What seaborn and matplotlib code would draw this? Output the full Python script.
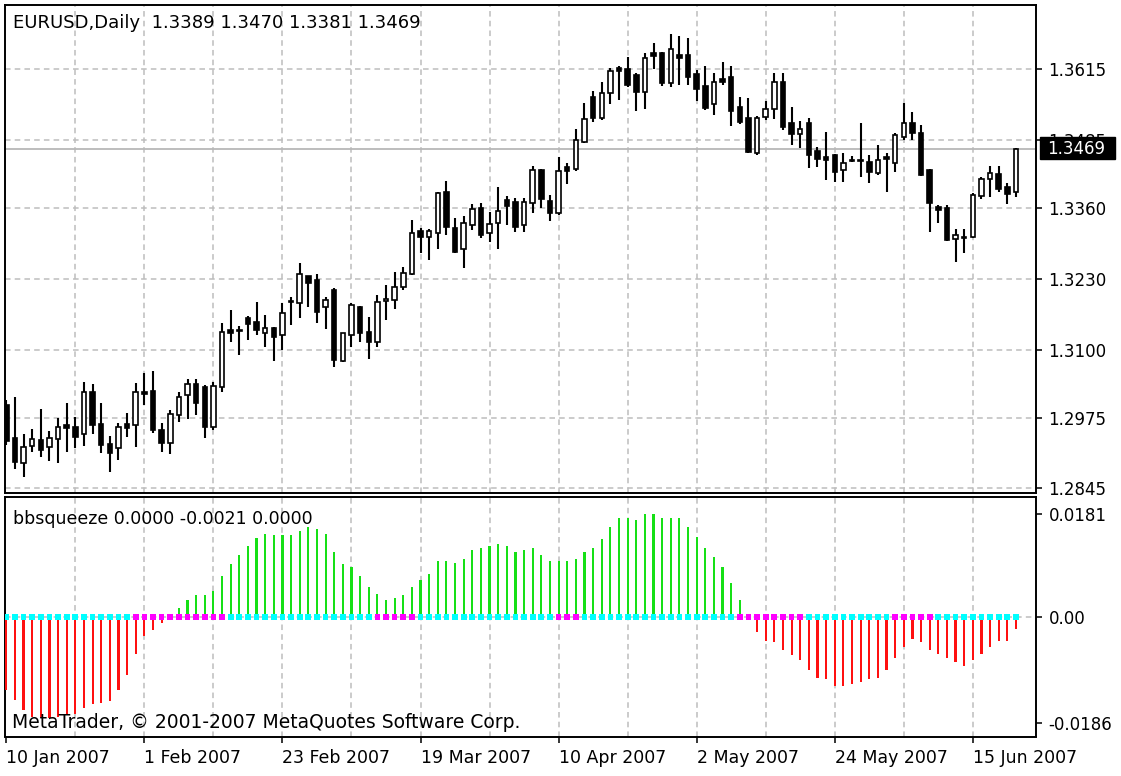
import numpy as np
import pandas as pd
import matplotlib
matplotlib.use("Agg")
import matplotlib.pyplot as plt
import seaborn as sns
from matplotlib.patches import Rectangle

sns.set_theme(style="white")
plt.rcParams['font.family'] = ['DejaVu Sans']
plt.rcParams['lines.scale_dashes'] = False

# ---------------- data ----------------
opens = [1.2998, 1.2938, 1.2892, 1.2923, 1.2934, 1.2921, 1.2936, 1.2961, 1.2958, 1.2945,
         1.3022, 1.2963, 1.2926, 1.2919, 1.2963, 1.2961, 1.3022, 1.3024, 1.2952, 1.2928,
         1.2980, 1.3017, 1.3037, 1.3031, 1.2958, 1.3031, 1.3136, 1.3136, 1.3158, 1.3151,
         1.3130, 1.3140, 1.3127, 1.3187, 1.3186, 1.3235, 1.3228, 1.3178, 1.3209, 1.3079,
         1.3127, 1.3178, 1.3132, 1.3114, 1.3189, 1.3191, 1.3215, 1.3239, 1.3318, 1.3307,
         1.3314, 1.3390, 1.3323, 1.3285, 1.3329, 1.3360, 1.3314, 1.3333, 1.3375, 1.3371,
         1.3329, 1.3369, 1.3430, 1.3373, 1.3351, 1.3436, 1.3432, 1.3481, 1.3564, 1.3526,
         1.3572, 1.3617, 1.3616, 1.3605, 1.3573, 1.3645, 1.3645, 1.3590, 1.3641, 1.3641,
         1.3606, 1.3584, 1.3551, 1.3597, 1.3601, 1.3546, 1.3526, 1.3461, 1.3527, 1.3542,
         1.3592, 1.3516, 1.3496, 1.3516, 1.3465, 1.3454, 1.3458, 1.3430, 1.3448, 1.3448,
         1.3445, 1.3424, 1.3454, 1.3443, 1.3491, 1.3516, 1.3498, 1.3430, 1.3362, 1.3360,
         1.3303, 1.3305, 1.3307, 1.3382, 1.3413, 1.3423, 1.3399, 1.3389]
highs = [1.3007, 1.3013, 1.2945, 1.2954, 1.2991, 1.2950, 1.2974, 1.3002, 1.2976, 1.3040,
         1.3037, 1.3002, 1.2941, 1.2965, 1.2983, 1.3039, 1.3057, 1.3061, 1.2965, 1.2989,
         1.3022, 1.3046, 1.3046, 1.3035, 1.3040, 1.3149, 1.3173, 1.3143, 1.3162, 1.3187,
         1.3164, 1.3142, 1.3186, 1.3197, 1.3259, 1.3236, 1.3239, 1.3197, 1.3213, 1.3131,
         1.3186, 1.3180, 1.3160, 1.3200, 1.3219, 1.3243, 1.3252, 1.3338, 1.3323, 1.3322,
         1.3390, 1.3410, 1.3342, 1.3346, 1.3368, 1.3369, 1.3353, 1.3399, 1.3382, 1.3379,
         1.3379, 1.3437, 1.3431, 1.3384, 1.3454, 1.3443, 1.3505, 1.3553, 1.3575, 1.3592,
         1.3617, 1.3621, 1.3638, 1.3608, 1.3645, 1.3663, 1.3647, 1.3680, 1.3676, 1.3673,
         1.3614, 1.3621, 1.3608, 1.3628, 1.3621, 1.3564, 1.3562, 1.3529, 1.3557, 1.3608,
         1.3608, 1.3546, 1.3520, 1.3526, 1.3472, 1.3500, 1.3459, 1.3462, 1.3456, 1.3516,
         1.3458, 1.3476, 1.3461, 1.3498, 1.3553, 1.3537, 1.3513, 1.3431, 1.3366, 1.3366,
         1.3322, 1.3322, 1.3388, 1.3417, 1.3437, 1.3437, 1.3406, 1.3470]
lows = [1.2925, 1.2881, 1.2866, 1.2912, 1.2903, 1.2895, 1.2892, 1.2912, 1.2919, 1.2923,
        1.2945, 1.2910, 1.2875, 1.2897, 1.2939, 1.2921, 1.2998, 1.2947, 1.2912, 1.2908,
        1.2967, 1.2972, 1.2980, 1.2938, 1.2952, 1.3022, 1.3114, 1.3090, 1.3118, 1.3127,
        1.3105, 1.3079, 1.3099, 1.3145, 1.3158, 1.3178, 1.3149, 1.3138, 1.3068, 1.3077,
        1.3105, 1.3114, 1.3083, 1.3105, 1.3154, 1.3175, 1.3210, 1.3237, 1.3278, 1.3265,
        1.3285, 1.3311, 1.3277, 1.3250, 1.3320, 1.3305, 1.3298, 1.3285, 1.3329, 1.3316,
        1.3316, 1.3351, 1.3360, 1.3336, 1.3347, 1.3404, 1.3428, 1.3480, 1.3518, 1.3522,
        1.3551, 1.3559, 1.3583, 1.3538, 1.3542, 1.3616, 1.3584, 1.3583, 1.3586, 1.3586,
        1.3557, 1.3540, 1.3531, 1.3586, 1.3511, 1.3515, 1.3461, 1.3458, 1.3522, 1.3524,
        1.3503, 1.3476, 1.3470, 1.3434, 1.3436, 1.3412, 1.3408, 1.3408, 1.3445, 1.3417,
        1.3406, 1.3421, 1.3390, 1.3426, 1.3485, 1.3485, 1.3419, 1.3316, 1.3333, 1.3300,
        1.3261, 1.3277, 1.3305, 1.3377, 1.3380, 1.3390, 1.3367, 1.3381]
closes = [1.2932, 1.2893, 1.2921, 1.2936, 1.2915, 1.2937, 1.2958, 1.2956, 1.2939, 1.3022,
          1.2961, 1.2925, 1.2910, 1.2958, 1.2956, 1.3022, 1.3018, 1.2952, 1.2928, 1.2982,
          1.3013, 1.3037, 1.3002, 1.2958, 1.3033, 1.3132, 1.3130, 1.3134, 1.3147, 1.3136,
          1.3140, 1.3123, 1.3167, 1.3189, 1.3239, 1.3222, 1.3169, 1.3191, 1.3081, 1.3130,
          1.3182, 1.3130, 1.3114, 1.3187, 1.3193, 1.3215, 1.3241, 1.3314, 1.3307, 1.3318,
          1.3388, 1.3325, 1.3279, 1.3333, 1.3358, 1.3311, 1.3331, 1.3355, 1.3364, 1.3325,
          1.3371, 1.3430, 1.3377, 1.3351, 1.3428, 1.3428, 1.3485, 1.3524, 1.3526, 1.3572,
          1.3612, 1.3612, 1.3586, 1.3573, 1.3636, 1.3640, 1.3590, 1.3652, 1.3636, 1.3601,
          1.3579, 1.3544, 1.3592, 1.3592, 1.3538, 1.3518, 1.3463, 1.3526, 1.3542, 1.3592,
          1.3509, 1.3496, 1.3505, 1.3458, 1.3450, 1.3448, 1.3426, 1.3443, 1.3447, 1.3446,
          1.3426, 1.3448, 1.3450, 1.3494, 1.3516, 1.3498, 1.3421, 1.3369, 1.3357, 1.3301,
          1.3311, 1.3307, 1.3384, 1.3413, 1.3424, 1.3395, 1.3386, 1.3469]

squeeze_vals = [-0.0127, -0.0146, -0.0162, -0.0175, -0.0177, -0.0177, -0.0175, -0.0172, -0.0169, -0.0159,
                -0.0152, -0.0150, -0.0147, -0.0128, -0.0102, -0.0064, -0.0033, -0.0022, -0.0011, 0.0003,
                0.0015, 0.0030, 0.0038, 0.0038, 0.0045, 0.0071, 0.0093, 0.0109, 0.0124, 0.0139,
                0.0146, 0.0143, 0.0143, 0.0143, 0.0151, 0.0158, 0.0154, 0.0146, 0.0113, 0.0093,
                0.0088, 0.0071, 0.0053, 0.0041, 0.0029, 0.0033, 0.0038, 0.0053, 0.0064, 0.0075,
                0.0098, 0.0098, 0.0094, 0.0102, 0.0117, 0.0121, 0.0124, 0.0128, 0.0124, 0.0113,
                0.0117, 0.0121, 0.0109, 0.0098, 0.0098, 0.0098, 0.0102, 0.0113, 0.0121, 0.0136,
                0.0158, 0.0173, 0.0173, 0.0170, 0.0180, 0.0181, 0.0173, 0.0173, 0.0173, 0.0158,
                0.0140, 0.0121, 0.0105, 0.0088, 0.0060, 0.0029, -0.0002, -0.0026, -0.0042, -0.0044,
                -0.0057, -0.0067, -0.0075, -0.0093, -0.0106, -0.0108, -0.0121, -0.0121, -0.0117, -0.0113,
                -0.0108, -0.0106, -0.0093, -0.0072, -0.0052, -0.0038, -0.0044, -0.0057, -0.0064, -0.0072,
                -0.0079, -0.0086, -0.0075, -0.0064, -0.0052, -0.0042, -0.0042, -0.0021]
# c = squeeze off (cyan), m = squeeze on (magenta)
squeeze_state = list("ccccccccccccccc" "mmmmmmmmmmm" "ccccccccccccccccc" "mmmmm"
                     "cccccccccccccccc" "mmm" "cccccccccccccccccc" "mmmmmmmm"
                     "cccccccccc" "mmmmm" "cccccccccc")

price_ticks = [1.3615, 1.3485, 1.3360, 1.3230, 1.3100, 1.2975, 1.2845]
price_tick_labels = ["1.3615", "1.3485", "1.3360", "1.3230", "1.3100", "1.2975", "1.2845"]
ind_ticks = [0.0181, 0.0, -0.0186]
ind_tick_labels = ["0.0181", "0.00", "-0.0186"]
date_labels = ["10 Jan 2007", "1 Feb 2007", "23 Feb 2007", "19 Mar 2007",
               "10 Apr 2007", "2 May 2007", "24 May 2007", "15 Jun 2007"]
last_price = 1.3469
last_price_label = "1.3469"
main_title = "EURUSD,Daily  1.3389 1.3470 1.3381 1.3469"
ind_title = "bbsqueeze 0.0000 -0.0021 0.0000"
copyright_text = "MetaTrader, \u00a9 2001-2007 MetaQuotes Software Corp."

# ---------------- layout ----------------
W, H = 1121, 776
fig = plt.figure(figsize=(W / 100, H / 100), dpi=100, facecolor="white")
ax1 = fig.add_axes([5 / W, 1 - 493 / H, 1031 / W, 488 / H])
ax2 = fig.add_axes([5 / W, 1 - 736.5 / H, 1031 / W, 239.5 / H])

n = len(opens)
x = np.arange(n)
dates = pd.bdate_range("2007-01-10", periods=n)
date_strs = [f"{d.day} {d:%b %Y}" for d in dates]
date_pos = [date_strs.index(lbl) for lbl in date_labels]

grid_kw = dict(color="#bdbdbd", lw=1.1, linestyle=(0, (4, 3)), zorder=1)
XMIN, XMAX = -0.15, 119.32

for ax in (ax1, ax2):
    ax.set_facecolor("white")
    ax.set_xlim(XMIN, XMAX)
    for sp in ax.spines.values():
        sp.set_visible(True)
        sp.set_color("black")
        sp.set_linewidth(1.4)
    for k in range(8, 120, 8):
        ax.axvline(k, **grid_kw)
    ax.yaxis.tick_right()
    ax.tick_params(axis="y", which="both", direction="out", length=4, width=1.1,
                   pad=5, labelsize=12, colors="black", right=True, left=False)

# ---------------- candles ----------------
ax1.set_ylim(1.28364, 1.37332)
for t in price_ticks:
    ax1.axhline(t, **grid_kw)
ax1.axhline(last_price, color="#b8b8b8", lw=1.3, zorder=2)

ax1.vlines(x, lows, highs, color="black", lw=1.5, zorder=3)
bw = 0.52
for i in range(n):
    o, c = opens[i], closes[i]
    bottom = min(o, c)
    height = max(abs(c - o), 0.00004)
    fc = "white" if c > o else "black"
    ax1.add_patch(Rectangle((i - bw / 2, bottom), bw, height, facecolor=fc,
                            edgecolor="black", lw=1.2, zorder=4))
ax1.set_yticks(price_ticks)
ax1.set_yticklabels(price_tick_labels)
ax1.set_xticks([])

# ---------------- indicator ----------------
ax2.set_ylim(-0.0209, 0.0210)
ax2.axhline(0, **grid_kw)
bar_colors = ["#16e016" if v > 0 else "#ff1010" for v in squeeze_vals]
ax2.bar(x, squeeze_vals, width=0.25, color=bar_colors, linewidth=0, zorder=3)
dots = pd.DataFrame({"x": x, "y": np.zeros(n), "state": squeeze_state})
sns.scatterplot(data=dots, x="x", y="y", hue="state", palette={"c": "#00ffff", "m": "#ff00ff"},
                marker="s", s=17, linewidth=0, legend=False, ax=ax2, zorder=5)
ax2.set_xlim(XMIN, XMAX)
ax2.set_xlabel("")
ax2.set_ylabel("")
ax2.set_yticks(ind_ticks)
ax2.set_yticklabels(ind_tick_labels)
ax2.set_xticks(date_pos)
ax2.set_xticklabels(date_labels, ha="left")
ax2.tick_params(axis="x", direction="out", length=4, width=1.1, pad=5,
                labelsize=12.5, colors="black", bottom=True)
ax1.set_ylabel("")

# ---------------- texts ----------------
fig.text(13 / W, 1 - 23 / H, main_title, fontsize=13, va="center", ha="left", color="black")
fig.text(13 / W, 1 - 519 / H, ind_title, fontsize=12.5, va="center", ha="left", color="black")
fig.text(12 / W, 1 - 722 / H, copyright_text, fontsize=13.5, va="center", ha="left", color="black")

# current price label box (covers the 1.3485 label, as in the terminal)
fig.patches.append(Rectangle((1040 / W, 1 - 159 / H), 75 / W, 22 / H,
                             transform=fig.transFigure, facecolor="black",
                             edgecolor="black", zorder=5))
fig.text(1047 / W, 1 - 148.5 / H, last_price_label, fontsize=12, va="center", ha="left",
         color="white", zorder=6)

fig.savefig("out.png", dpi=100, facecolor="white")
